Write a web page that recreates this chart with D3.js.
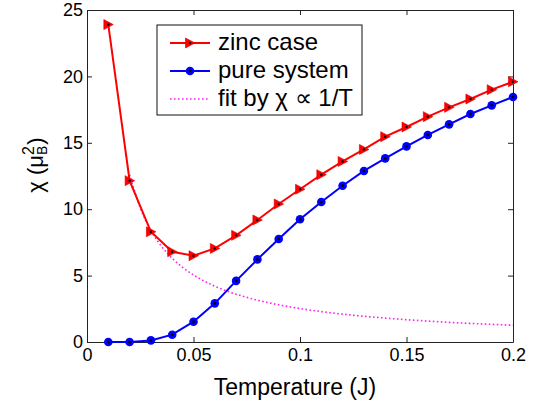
<!DOCTYPE html>
<html>
<head>
<meta charset="utf-8">
<script src="https://cdn.jsdelivr.net/npm/d3@7"></script>
<style>
  html, body { margin: 0; padding: 0; background: #fff; }
  svg { display: block; font-family: "Liberation Sans", Arial, Helvetica, sans-serif; }
</style>
</head>
<body>
<svg id="chart" width="540" height="409"></svg>
<script>
// ---- data ----
const temps = [0.01,0.02,0.03,0.04,0.05,0.06,0.07,0.08,0.09,0.10,0.11,0.12,0.13,0.14,0.15,0.16,0.17,0.18,0.19,0.20];
const zincCase = [23.9,12.15,8.3,6.8,6.5,7.05,8.03,9.19,10.39,11.5,12.6,13.6,14.5,15.46,16.19,16.97,17.67,18.3,19.0,19.6];
const pureSystem = [0.0,0.0,0.12,0.55,1.53,2.91,4.6,6.22,7.76,9.24,10.54,11.77,12.88,13.83,14.73,15.59,16.39,17.17,17.82,18.45];
const fitTemps = [0.02,0.025,0.03,0.035,0.04,0.045,0.05,0.06,0.07,0.08,0.09,0.10,0.11,0.12,0.13,0.14,0.15,0.16,0.17,0.18,0.19,0.20];
const fitValues = [12.6,10.1,8.4,7.2,6.3,5.6,5.05,4.2,3.6,3.15,2.8,2.52,2.29,2.1,1.94,1.8,1.68,1.58,1.48,1.4,1.33,1.26];
const xTicks = [0,0.05,0.1,0.15,0.2];
const xTickLabels = ["0","0.05","0.1","0.15","0.2"];
const yTicks = [0,5,10,15,20,25];
const legendLabels = ["zinc case","pure system","fit by \u03C7 \u221D 1/T"];

// ---- layout ----
const L = 87, R = 513, T = 10, B = 342;
const svg = d3.select("#chart");
const x = d3.scaleLinear().domain([0,0.2]).range([L,R]);
const y = d3.scaleLinear().domain([0,25]).range([B,T]);

const axisColor = "#222";
function styleAxis(g, showLabels) {
  g.select(".domain").attr("stroke", axisColor).attr("stroke-width", 1);
  g.selectAll(".tick line").attr("stroke", axisColor).attr("stroke-width", 1);
  g.selectAll(".tick text").attr("fill", "#000").style("font-size", "18px")
   .style("font-family", "'Liberation Sans', Arial, sans-serif");
  if (!showLabels) g.selectAll(".tick text").remove();
}

svg.append("g").attr("transform", `translate(0,${B})`)
  .call(d3.axisBottom(x).tickValues(xTicks).tickFormat((d,i)=>xTickLabels[i]).tickSize(-5).tickSizeOuter(0).tickPadding(6))
  .call(g => styleAxis(g, true));
svg.append("g").attr("transform", `translate(0,${T})`)
  .call(d3.axisTop(x).tickValues(xTicks).tickSize(-5).tickSizeOuter(0))
  .call(g => styleAxis(g, false));
svg.append("g").attr("transform", `translate(${L},0)`)
  .call(d3.axisLeft(y).tickValues(yTicks).tickSize(-5).tickSizeOuter(0).tickPadding(4))
  .call(g => styleAxis(g, true));
svg.append("g").attr("transform", `translate(${R},0)`)
  .call(d3.axisRight(y).tickValues(yTicks).tickSize(-5).tickSizeOuter(0))
  .call(g => styleAxis(g, false));

// ---- series ----
const line = d3.line().x(d => x(d[0])).y(d => y(d[1]));
const fitLine = d3.line().x(d => x(d[0])).y(d => y(d[1])).curve(d3.curveMonotoneX);

const fitData = fitTemps.map((t,i) => [t, fitValues[i]]);
const zincData = temps.map((t,i) => [t, zincCase[i]]);
const pureData = temps.map((t,i) => [t, pureSystem[i]]);

svg.append("path").datum(fitData).attr("d", fitLine)
  .attr("fill","none").attr("stroke","#ff22ee").attr("stroke-width",1.6)
  .attr("stroke-dasharray","1.6,2.4");

const tri = d3.symbol().type({draw(ctx, size){ const s=5; ctx.moveTo(s,0); ctx.lineTo(-s*0.9,-s); ctx.lineTo(-s*0.9,s); ctx.closePath(); }});

function drawZincMarker(g, cx, cy) {
  g.append("path").attr("d", tri()).attr("transform", `translate(${cx},${cy})`)
    .attr("fill","#ff0000").attr("stroke","#dd0000").attr("stroke-width",0.6);
  g.append("circle").attr("cx",cx).attr("cy",cy).attr("r",1.2).attr("fill","#000");
}
function drawPureMarker(g, cx, cy) {
  g.append("circle").attr("cx",cx).attr("cy",cy).attr("r",4.3).attr("fill","#0000ff");
  g.append("circle").attr("cx",cx).attr("cy",cy).attr("r",1.4).attr("fill","#000");
}

svg.append("path").datum(pureData).attr("d", line)
  .attr("fill","none").attr("stroke","#0000ff").attr("stroke-width",2);
const pg = svg.append("g");
pureData.forEach(d => drawPureMarker(pg, x(d[0]), y(d[1])));

svg.append("path").datum(zincData).attr("d", line)
  .attr("fill","none").attr("stroke","#ff0000").attr("stroke-width",2);
const zg = svg.append("g");
zincData.forEach(d => drawZincMarker(zg, x(d[0]), y(d[1])));

// ---- legend ----
const lg = svg.append("g");
lg.append("rect").attr("x",157).attr("y",25).attr("width",205).attr("height",90)
  .attr("fill","#fff").attr("stroke","#111").attr("stroke-width",1);
const rows = [43,71,99];
lg.append("line").attr("x1",170).attr("x2",210).attr("y1",rows[0]).attr("y2",rows[0]).attr("stroke","#ff0000").attr("stroke-width",2);
drawZincMarker(lg, 190, rows[0]);
lg.append("line").attr("x1",170).attr("x2",210).attr("y1",rows[1]).attr("y2",rows[1]).attr("stroke","#0000ff").attr("stroke-width",2);
drawPureMarker(lg, 190, rows[1]);
lg.append("line").attr("x1",170).attr("x2",210).attr("y1",rows[2]).attr("y2",rows[2]).attr("stroke","#ff22ee").attr("stroke-width",1.6).attr("stroke-dasharray","1.6,2.4");
legendLabels.forEach((t,i) => {
  lg.append("text").attr("x",218).attr("y",rows[i]+7).text(t)
    .style("font-size","24px").attr("fill","#000");
});

// ---- axis titles ----
svg.append("text").attr("x",295).attr("y",395).attr("text-anchor","middle")
  .style("font-size","23px").attr("fill","#000").text("Temperature (J)");

const yl = svg.append("g").attr("transform","translate(43,165) rotate(-90)");
const main = yl.append("text").attr("x",0).attr("y",0).style("font-size","22px").text("\u03C7 (\u03BC");
const w1 = main.node().getComputedTextLength();
const sub = yl.append("text").attr("x",w1).attr("y",4).style("font-size","14px").text("B");
const sup = yl.append("text").attr("x",w1).attr("y",-9).style("font-size","16px").text("2");
const w2 = Math.max(sub.node().getComputedTextLength(), sup.node().getComputedTextLength());
const close = yl.append("text").attr("x",w1+w2+1).attr("y",0).style("font-size","22px").text(")");
const total = w1 + w2 + 1 + close.node().getComputedTextLength();
yl.selectAll("text").attr("transform",`translate(${-total/2},0)`).attr("fill","#000");
</script>
</body>
</html>
